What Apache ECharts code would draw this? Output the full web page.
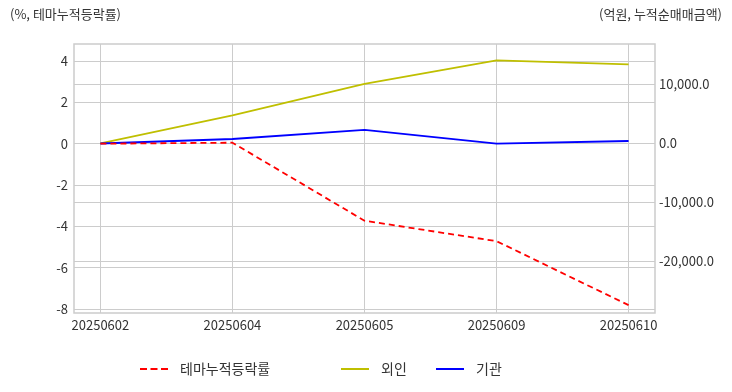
<!DOCTYPE html>
<html><head><meta charset="utf-8">
<script src="https://cdn.jsdelivr.net/npm/echarts@6/dist/echarts.min.js"></script>
<style>html,body{margin:0;padding:0;background:#fff}#c{width:732px;height:392px}</style>
</head><body><div id="c"></div>
<script>
const categories = ['20250602','20250604','20250605','20250609','20250610'];
const themeReturn = [0, 0.05, -3.73, -4.72, -7.82];
const foreign = [0, 4780, 10090, 14100, 13420];
const institution = [0, 760, 2290, -30, 420];
const leftTicks = [-8,-6,-4,-2,0,2,4];
const rightTicks = [-20000,-10000,0,10000];
const xTicks = [0,1,2,3,4];

const FONT = '"Noto Sans CJK KR", "Noto Sans", sans-serif';
const toPts = arr => arr.map((v,i)=>[i,v]);
const chart = echarts.init(document.getElementById('c'));
const gridLine = {show:true, lineStyle:{color:'#cccccc', width:1}};
const DASH_ICON = 'path://M0,0h7v2h-7zM10.5,0h7v2h-7zM21,0h7v2h-7z';
const SOLID_ICON = 'path://M0,0h28v2h-28z';
const legendBase = {bottom:11, itemWidth:28, itemHeight:2, itemGap:10,
  textStyle:{fontFamily:FONT,fontSize:14,color:'#333', padding:[0,0,0,7]}};
chart.setOption({
  animation:false,
  textStyle:{fontFamily:FONT},
  grid:{left:74, right:77, top:44, bottom:79, show:true, borderColor:'#cccccc', borderWidth:1.5, containLabel:false},
  graphic:[
    {type:'text', left:10, top:8, style:{text:'(%, 테마누적등락률)', font:'13px '+FONT, fill:'#333'}},
    {type:'text', right:10, top:8, style:{text:'(억원, 누적순매매금액)', font:'13px '+FONT, fill:'#333'}}
  ],
  legend:[
    Object.assign({}, legendBase, {left:135, data:[{name:'테마누적등락률', icon:DASH_ICON}]}),
    Object.assign({}, legendBase, {left:336, data:[{name:'외인', icon:SOLID_ICON}]}),
    Object.assign({}, legendBase, {left:431, data:[{name:'기관', icon:SOLID_ICON}]})
  ],
  xAxis:{type:'value', min:-0.2, max:4.2,
    axisLine:{show:false},
    axisTick:{show:false, customValues:xTicks},
    axisLabel:{customValues:xTicks, formatter:v=>categories[Math.round(v)], fontSize:13, color:'#333', margin:6, fontFamily:FONT},
    splitLine:gridLine},
  yAxis:[
    {type:'value', min:-8.2, max:4.83, position:'left',
      axisLine:{show:false}, axisTick:{show:false, customValues:leftTicks},
      axisLabel:{customValues:leftTicks, fontSize:13, color:'#333', margin:6, fontFamily:FONT},
      splitLine:gridLine},
    {type:'value', min:-28730, max:16860, position:'right',
      axisLine:{show:false}, axisTick:{show:false, customValues:rightTicks},
      axisLabel:{customValues:rightTicks, fontSize:13, color:'#333', margin:4, fontFamily:FONT,
        formatter:v=>v.toLocaleString('en-US',{minimumFractionDigits:1,maximumFractionDigits:1})},
      splitLine:gridLine}
  ],
  series:[
    {name:'테마누적등락률', type:'line', yAxisIndex:0, data:toPts(themeReturn), symbol:'none',
      lineStyle:{color:'#ff0000', width:1.8, type:[6,4]}, itemStyle:{color:'#ff0000'}, z:3},
    {name:'외인', type:'line', yAxisIndex:1, data:toPts(foreign), symbol:'none',
      lineStyle:{color:'#bfbf00', width:1.8}, itemStyle:{color:'#bfbf00'}, z:2},
    {name:'기관', type:'line', yAxisIndex:1, data:toPts(institution), symbol:'none',
      lineStyle:{color:'#0000ff', width:1.8}, itemStyle:{color:'#0000ff'}, z:2}
  ]
});
</script></body></html>
